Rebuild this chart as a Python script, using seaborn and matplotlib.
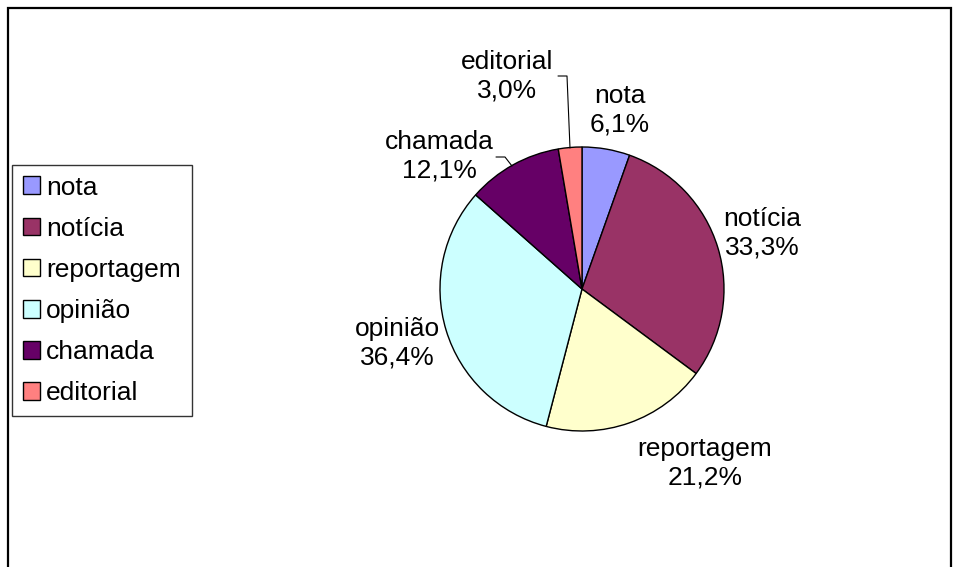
import matplotlib
matplotlib.use("Agg")
import matplotlib.pyplot as plt
import seaborn as sns
from matplotlib.patches import Rectangle, Patch

# Data
categories = ["nota", "notícia", "reportagem", "opinião", "chamada", "editorial"]
values = [6.1, 33.3, 21.2, 36.4, 12.1, 3.0]
colors = ["#9999FF", "#993366", "#FFFFCC", "#CCFFFF", "#660066", "#FF8080"]

sns.set_theme(style="white")
plt.rcParams["font.family"] = ["Liberation Sans", "DejaVu Sans"]
plt.rcParams["text.color"] = "black"

W, H = 960, 567
fig = plt.figure(figsize=(W / 100, H / 100), dpi=100)
ax = fig.add_axes([0, 0, 1, 1])

# frame around chart area (bottom extends past the image)
ax.add_patch(Rectangle((8, -20), 943, H - 8 + 20, fill=False, ec="black", lw=1.6))

cx, cy, r = 582, H - 289, 142
wedges, _ = ax.pie(values, colors=colors, startangle=90, counterclock=False,
                   center=(cx, cy), radius=r, frame=True,
                   wedgeprops=dict(edgecolor="black", linewidth=1.0))
ax.set_xlim(0, W)
ax.set_ylim(0, H)
ax.set_aspect("auto")
ax.axis("off")

# label positions (image pixel coords)
label_pos = {
    "nota": (620, 110),
    "notícia": (762, 233),
    "reportagem": (705, 463),
    "opinião": (397, 343),
    "chamada": (439, 156),
    "editorial": (507, 76),
}
for name, v in zip(categories, values):
    x, y = label_pos[name]
    txt = f"{name}\n{v:.1f}%".replace(".", ",")
    ax.text(x, H - y, txt, ha="center", va="center", fontsize=19,
            linespacing=1.25, color="black")

# leader lines
ax.plot([558, 567, 570], [H - 76, H - 76, H - 148], color="black", lw=0.8)
ax.plot([496, 505, 512], [H - 157, H - 157, H - 166], color="black", lw=0.8)

handles = [Patch(facecolor=c, edgecolor="black", linewidth=1.0) for c in colors]
leg = ax.legend(handles, categories, loc="upper left",
                bbox_to_anchor=(12 / W, 1 - 165 / H), bbox_transform=fig.transFigure,
                borderaxespad=0, fontsize=19, frameon=True, fancybox=False,
                edgecolor="black", handlelength=0.65, handleheight=0.65,
                handletextpad=0.25, labelspacing=0.65, borderpad=0.4,
                labelcolor="black")
leg.get_frame().set_linewidth(1.0)

fig.savefig("out.png", dpi=100)
